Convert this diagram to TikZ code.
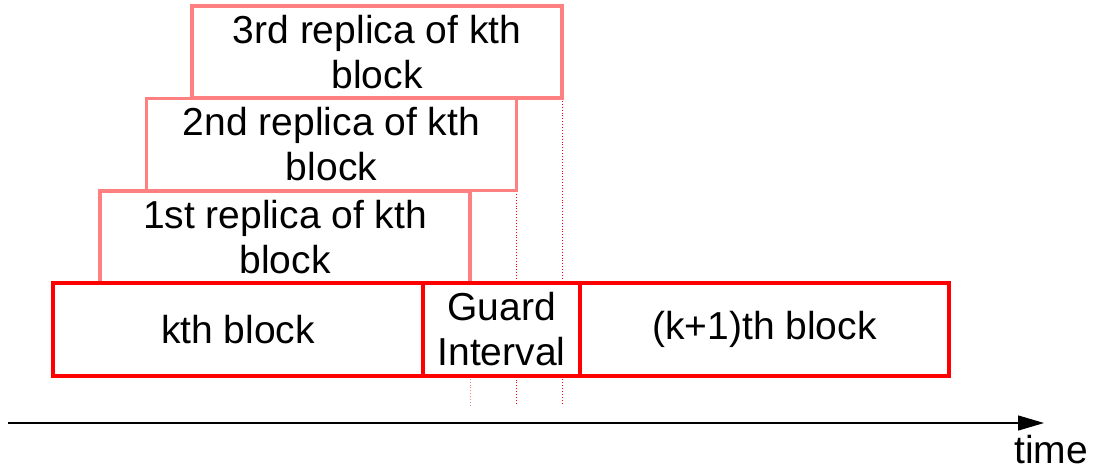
\documentclass[tikz,border=0pt]{standalone}
\usepackage{fontspec}
\setmainfont{Liberation Sans}
\usetikzlibrary{arrows.meta}
\definecolor{blockred}{HTML}{FF0000}
\definecolor{replicared}{HTML}{FF8080}
\begin{document}
\begin{tikzpicture}[x=1pt,y=-1pt,
  every node/.style={font=\fontsize{39}{45}\selectfont, align=center, inner sep=0pt},
  blockbox/.style={draw=blockred, line width=3.2pt, fill=white, minimum height=93pt},
  replicabox/.style={draw=replicared, line width=3.2pt, fill=white, minimum width=370pt, minimum height=92pt},
  guide/.style={draw=blockred, line width=0.9pt, dotted},
  timeaxis/.style={draw=black, line width=1.3pt, -{Triangle[length=26pt,width=15pt]}}
]
\useasboundingbox (0,0) rectangle (1102,471);

% lower ends of the guide lines
\coordinate (g1) at (470,405);
\coordinate (g2) at (516,405);
\coordinate (g3) at (562,405);

% guide lines (drawn first so the boxes cover them)
\draw[guide, draw=replicared] (470,283) -- (g1);
\draw[guide] (516,191) -- (g2);
\draw[guide] (562,98) -- (g3);

% replicas of the kth block
\node[replicabox] (r1) at (285,237) {1st replica of kth\\block};
\node[replicabox] (r2) at (331.5,144.5) {2nd replica of kth\\block};
\node[replicabox] (r3) at (377,52) {3rd replica of kth\\block};

% transmitted blocks
\node[blockbox, minimum width=370pt] (kb) at (238,329.5) {kth block};
\node[blockbox, minimum width=157pt] (gi) at (501.5,329.5) {Guard\\Interval};
\node[blockbox, minimum width=369pt] (k1) at (764.5,329.5) {(k+1)th block};

% time axis
\coordinate (ta) at (8,423);
\coordinate (tb) at (1044,423);
\draw[timeaxis] (ta) -- (tb);
\node (time) at (1051,450) {time};
\end{tikzpicture}
\end{document}
